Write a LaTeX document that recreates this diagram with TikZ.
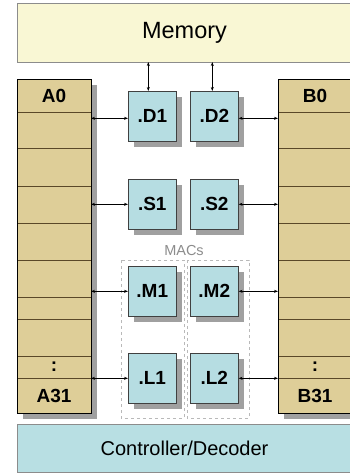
\documentclass[tikz,border=0pt]{standalone}
\usepackage{fontspec}
\setmainfont{Liberation Sans}
\usetikzlibrary{arrows.meta,shadows,calc}
\definecolor{memfill}{RGB}{249,247,212}
\definecolor{regfill}{RGB}{222,206,152}
\definecolor{regline}{RGB}{90,72,40}
\definecolor{unitfill}{RGB}{182,221,226}
\definecolor{ctlfill}{RGB}{184,223,227}
\definecolor{shadowgray}{RGB}{160,160,160}
\definecolor{macgray}{RGB}{185,185,185}
\tikzset{
  regrow/.style={draw=regline, line width=0.6pt, fill=regfill, minimum width=74pt, inner sep=0pt, outer sep=0pt, anchor=north west, font=\fontsize{19}{21}\selectfont\bfseries},
  unitbox/.style={draw=black!75, line width=0.6pt, fill=unitfill, minimum width=48pt, minimum height=50pt, inner sep=0pt, anchor=north west, font=\fontsize{19}{21}\selectfont\bfseries,
    drop shadow={shadow xshift=6pt, shadow yshift=-6pt, fill=shadowgray, opacity=1}},
  biarrow/.style={{Stealth[length=4pt,width=3pt]}-{Stealth[length=4pt,width=3pt]}, line width=0.8pt, black},
  macbox/.style={draw=macgray, dashed, line width=0.8pt},
  bigbox/.style={draw=black!45, line width=0.8pt, inner sep=0pt, outer sep=0pt, minimum width=335pt, anchor=north west}
}
\begin{document}
\begin{tikzpicture}[x=1pt,y=-1pt]
\useasboundingbox (0,0) rectangle (350,475);
\clip (0,0) rectangle (350,475);
\fill[white] (0,0) rectangle (350,475);
% Memory
\node[bigbox, fill=memfill, minimum height=59pt, font=\fontsize{23.5}{26}\selectfont] (Memory) at (17,3) {Memory};
% Controller
\node[bigbox, fill=ctlfill, minimum height=48pt, font=\fontsize{20}{22}\selectfont] (Ctl) at (17,424) {Controller/Decoder};
% register file shadows
\fill[shadowgray] (23,85) rectangle (97,419);
\fill[shadowgray] (284,85) rectangle (358,419);
% register file A
\node[regrow, minimum height=33pt] (A0) at (17,79) {A0};
\node[regrow, minimum height=36pt] (A1) at (17,112) {};
\node[regrow, minimum height=38pt] (A2) at (17,148) {};
\node[regrow, minimum height=37pt] (A3) at (17,186) {};
\node[regrow, minimum height=37pt] (A4) at (17,223) {};
\node[regrow, minimum height=37pt] (A5) at (17,260) {};
\node[regrow, minimum height=22pt] (A6) at (17,297) {};
\node[regrow, minimum height=37pt] (A7) at (17,319) {};
\node[regrow, minimum height=22pt] (A8) at (17,356) {:};
\node[regrow, minimum height=35pt] (A31) at (17,378) {A31};
\draw[black, line width=0.8pt] (17,79) rectangle (91,413);
% register file B
\node[regrow, minimum height=33pt] (B0) at (278,79) {B0};
\node[regrow, minimum height=36pt] (B1) at (278,112) {};
\node[regrow, minimum height=38pt] (B2) at (278,148) {};
\node[regrow, minimum height=37pt] (B3) at (278,186) {};
\node[regrow, minimum height=37pt] (B4) at (278,223) {};
\node[regrow, minimum height=37pt] (B5) at (278,260) {};
\node[regrow, minimum height=22pt] (B6) at (278,297) {};
\node[regrow, minimum height=37pt] (B7) at (278,319) {};
\node[regrow, minimum height=22pt] (B8) at (278,356) {:};
\node[regrow, minimum height=35pt] (B31) at (278,378) {B31};
\draw[black, line width=0.8pt] (278,79) rectangle (352,413);
% MACs group
\draw[macbox] (121,260) rectangle (184,418);
\draw[macbox] (187,260) rectangle (249,418);
\node[text=black!45, font=\fontsize{14.5}{16}\selectfont, inner sep=0pt] (MACs) at (184,251) {MACs};
% functional units
\node[unitbox] (D1) at (128,91) {.D1};
\node[unitbox] (D2) at (190,91) {.D2};
\node[unitbox] (S1) at (128,179) {.S1};
\node[unitbox] (S2) at (190,179) {.S2};
\node[unitbox] (M1) at (128,266) {.M1};
\node[unitbox] (M2) at (190,266) {.M2};
\node[unitbox] (L1) at (128,353) {.L1};
\node[unitbox] (L2) at (190,353) {.L2};
% connectors
\draw[biarrow] ([xshift=-4pt]D1.north) -- ([xshift=-4pt]D1.north |- Memory.south);
\draw[biarrow] ([xshift=-2pt]D2.north) -- ([xshift=-2pt]D2.north |- Memory.south);
\draw[biarrow] ([yshift=-2pt]D1.west) -- ([yshift=-2pt]D1.west -| A1.east);
\draw[biarrow] ([yshift=-2pt]D2.east) -- ([yshift=-2pt]D2.east -| B1.west);
\draw[biarrow] (S1.west) -- (S1.west -| A3.east);
\draw[biarrow] (S2.east) -- (S2.east -| B3.west);
\draw[biarrow] (M1.west) -- (M1.west -| A5.east);
\draw[biarrow] (M2.east) -- (M2.east -| B5.west);
\draw[biarrow] (L1.west) -- (L1.west -| A31.east);
\draw[biarrow] (L2.east) -- (L2.east -| B31.west);
\end{tikzpicture}
\end{document}
